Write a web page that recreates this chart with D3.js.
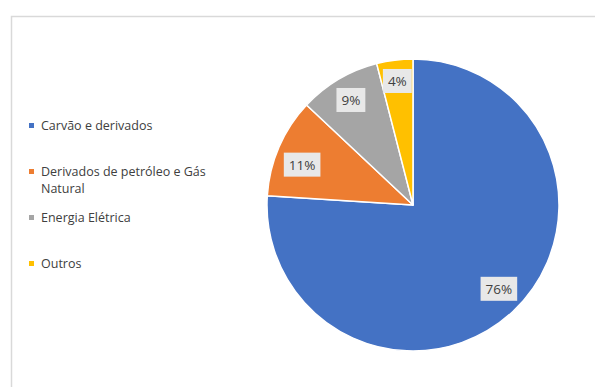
<!DOCTYPE html>
<html>
<head>
<meta charset="utf-8">
<script src="https://cdn.jsdelivr.net/npm/d3@7"></script>
<style>
  html, body { margin: 0; padding: 0; background: #fff; }
  svg { display: block; }
</style>
</head>
<body>
<svg id="chart" width="595" height="387"></svg>
<script>
// Energy sources share (%)
const categories = ["Carvão e derivados", "Derivados de petróleo e Gás Natural", "Energia Elétrica", "Outros"];
const legendLines = [["Carvão e derivados"], ["Derivados de petróleo e Gás", "Natural"], ["Energia Elétrica"], ["Outros"]];
const shares = [76, 11, 9, 4];
const colors = ["#4472C4", "#ED7D31", "#A5A5A5", "#FFC000"];

const svg = d3.select("#chart");
const W = 595, H = 387;
const font = "'Open Sans', sans-serif";
const textColor = "#404040";

// chart area frame (only top and left edges are inside the view)
svg.append("path")
  .attr("d", `M11.5,${H + 2} V16.5 H${W + 2}`)
  .attr("fill", "none")
  .attr("stroke", "#d9d9d9")
  .attr("stroke-width", 1.5);

// pie geometry
const cx = 413, cy = 205, R = 146;
const pie = d3.pie().sort(null).value(d => d)(shares);
const arc = d3.arc().innerRadius(0).outerRadius(R);

const g = svg.append("g").attr("transform", `translate(${cx},${cy})`);
g.selectAll("path.slice")
  .data(pie)
  .join("path")
  .attr("class", "slice")
  .attr("d", arc)
  .attr("fill", (d, i) => colors[i])
  .attr("stroke", "#fff")
  .attr("stroke-width", 1.5)
  .attr("stroke-linejoin", "round");

// data labels: boxed percentages placed inside each slice
const labelRadius = [120, 118, 122, 125];
const angleShift = [-2.5, -3.4, 0, 0].map(a => a * Math.PI / 180);
const labels = g.selectAll("g.lbl")
  .data(pie)
  .join("g")
  .attr("class", "lbl")
  .attr("transform", (d, i) => {
    const a = (d.startAngle + d.endAngle) / 2 + angleShift[i];
    const r = labelRadius[i];
    return `translate(${r * Math.sin(a)},${-r * Math.cos(a)})`;
  });

labels.each(function (d) {
  const sel = d3.select(this);
  const t = sel.append("text")
    .attr("text-anchor", "middle")
    .attr("dy", "0.36em")
    .attr("font-family", font)
    .attr("font-size", 13.5)
    .attr("fill", textColor)
    .text(d3.format(".0f")(d.data) + "%");
  const w = t.node().getComputedTextLength();
  sel.insert("rect", "text")
    .attr("x", -w / 2 - 5)
    .attr("y", -12)
    .attr("width", w + 10)
    .attr("height", 24)
    .attr("fill", "#e8e8e8");
});

// legend
const legend = svg.append("g");
const legendY = d3.scalePoint().domain(d3.range(categories.length)).range([130, 268]);
const items = legend.selectAll("g.item")
  .data(categories)
  .join("g")
  .attr("class", "item")
  .attr("transform", (d, i) => `translate(0,${legendY(i)})`);

items.append("rect")
  .attr("x", 29)
  .attr("y", -7)
  .attr("width", 5)
  .attr("height", 5)
  .attr("fill", (d, i) => colors[i]);

items.append("text")
  .attr("x", 41)
  .attr("font-family", font)
  .attr("font-size", 12.5)
  .attr("fill", textColor)
  .selectAll("tspan")
  .data((d, i) => legendLines[i])
  .join("tspan")
  .attr("x", 41)
  .attr("dy", (d, j) => j === 0 ? 0 : 17.2)
  .text(d => d);
</script>
</body>
</html>
